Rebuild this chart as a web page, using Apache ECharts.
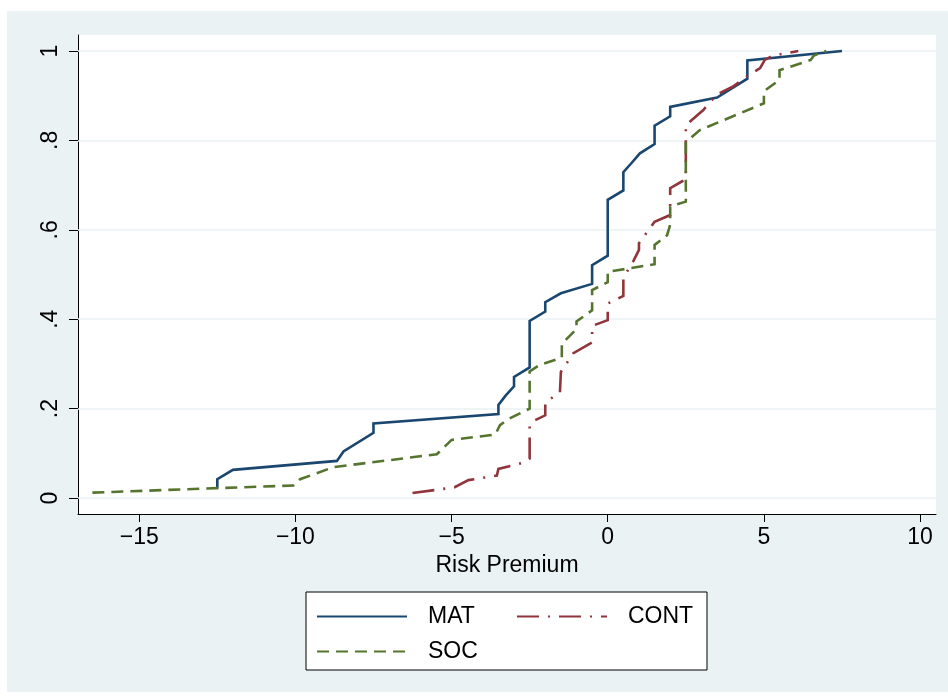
<!DOCTYPE html>
<html>
<head>
<meta charset="utf-8">
<script src="https://cdn.jsdelivr.net/npm/echarts@6/dist/echarts.min.js"></script>
<style>
  html, body { margin: 0; padding: 0; background: #ffffff; }
  #frame { position: absolute; left: 7px; top: 11px; width: 941px; height: 681px; background: #eaf2f3; }
  #chart { position: absolute; left: 0; top: 0; width: 948px; height: 697px; }
</style>
</head>
<body>
<div id="frame"></div>
<div id="chart"></div>
<script>
// Empirical cumulative distributions of the risk premium, one curve per treatment.
// Each pair of arrays holds the curve vertices: premium value and cumulative share.
const matX  = [-12.5, -12.5, -12.0, -8.67, -8.46, -7.5, -7.5, -3.5, -3.5, -3.27, -3.0, -3.0, -2.5, -2.5, -2.0, -2.0, -1.5, -0.5, -0.5, 0.0, 0.0, 0.5, 0.5, 0.77, 1.03, 1.5, 1.5, 2.0, 2.0, 3.5, 4.47, 4.47, 7.5];
const matY  = [0.021, 0.042, 0.063, 0.083, 0.104, 0.146, 0.167, 0.188, 0.208, 0.229, 0.25, 0.271, 0.292, 0.396, 0.417, 0.438, 0.458, 0.479, 0.521, 0.542, 0.667, 0.688, 0.729, 0.75, 0.771, 0.792, 0.833, 0.854, 0.875, 0.896, 0.938, 0.979, 1.0];

const contX = [-6.25, -5.4, -4.9, -4.46, -3.55, -3.5, -2.7, -2.5, -2.5, -2.33, -2.0, -2.0, -1.53, -1.5, -1.1, -0.5, -0.5, 0.0, 0.0, 0.5, 0.5, 0.82, 1.0, 1.0, 1.5, 2.0, 2.0, 2.37, 2.5, 2.5, 3.06, 3.5, 4.0, 4.5, 4.88, 5.03, 5.3, 6.1];
const contY = [0.011, 0.019, 0.024, 0.04, 0.05, 0.065, 0.079, 0.088, 0.163, 0.174, 0.185, 0.214, 0.236, 0.282, 0.324, 0.348, 0.385, 0.398, 0.435, 0.452, 0.493, 0.53, 0.555, 0.57, 0.618, 0.633, 0.693, 0.708, 0.712, 0.834, 0.868, 0.903, 0.92, 0.945, 0.962, 0.98, 0.99, 1.0];

const socX  = [-16.5, -12.5, -10.06, -9.85, -8.78, -5.47, -5.0, -3.6, -3.45, -3.2, -2.5, -2.5, -2.17, -1.47, -1.47, -1.0, -1.0, -0.5, -0.5, 0.0, 0.0, 1.5, 1.5, 1.9, 2.0, 2.0, 2.5, 2.5, 2.95, 5.0, 5.0, 5.5, 5.5, 6.5, 6.6, 7.0];
const socY  = [0.012, 0.022, 0.028, 0.042, 0.069, 0.098, 0.13, 0.142, 0.163, 0.176, 0.2, 0.283, 0.298, 0.314, 0.345, 0.378, 0.395, 0.42, 0.465, 0.483, 0.506, 0.523, 0.566, 0.588, 0.611, 0.652, 0.663, 0.796, 0.823, 0.883, 0.91, 0.935, 0.957, 0.98, 0.99, 1.0];

const seriesNames = ['MAT', 'CONT', 'SOC'];
const xTicks = [-15, -10, -5, 0, 5, 10];
const yTicks = [0, 0.2, 0.4, 0.6, 0.8, 1];
const xTitle = 'Risk Premium';

const FONT = '"Liberation Sans", Arial, sans-serif';

function pairs(xs, ys) {
  return xs.map((x, i) => [x, ys[i]]);
}

function fmtX(v) {
  return v < 0 ? '\u2212' + Math.abs(v) : String(v);
}
function fmtY(v) {
  if (v === 0) return '0';
  if (v === 1) return '1';
  return String(+v.toFixed(1)).replace(/^0\./, '.');
}

const chart = echarts.init(document.getElementById('chart'), null, { renderer: 'canvas' });

const curveStyles = {
  MAT:  { color: '#1a476f', width: 2.6, type: 'solid' },
  CONT: { color: '#90353b', width: 2.6, type: [22, 9, 2, 9] },
  SOC:  { color: '#55752f', width: 2.6, type: [12, 7] }
};
const curveData = {
  MAT: pairs(matX, matY),
  CONT: pairs(contX, contY),
  SOC: pairs(socX, socY)
};

const series = [
  {
    // horizontal grid lines behind the curves
    name: 'grid',
    type: 'line',
    data: [],
    z: 1,
    silent: true,
    markLine: {
      z: 1,
      silent: true,
      symbol: ['none', 'none'],
      label: { show: false },
      animation: false,
      lineStyle: { color: '#eaf2f3', width: 1.6, type: 'solid' },
      emphasis: { disabled: true },
      data: yTicks.map(v => ({ yAxis: v }))
    }
  }
].concat(seriesNames.map(name => ({
  name: name,
  type: 'line',
  data: curveData[name],
  z: 3,
  symbol: 'none',
  showSymbol: false,
  smooth: false,
  lineStyle: {
    color: curveStyles[name].color,
    width: curveStyles[name].width,
    type: curveStyles[name].type,
    join: 'miter'
  },
  itemStyle: { color: curveStyles[name].color }
})));

chart.setOption({
  animation: false,
  backgroundColor: 'transparent',
  textStyle: { fontFamily: FONT, color: '#000' },
  grid: {
    left: 78, right: 12, top: 35, bottom: 183,
    show: true, backgroundColor: '#ffffff', borderWidth: 0,
    containLabel: false
  },
  xAxis: {
    type: 'value',
    min: -16.96, max: 10.51,
    name: xTitle,
    nameLocation: 'middle',
    nameGap: 38,
    nameTextStyle: { fontFamily: FONT, fontSize: 23, color: '#000' },
    axisLine: { show: true, onZero: false, lineStyle: { color: '#000', width: 1 } },
    axisTick: { show: true, customValues: xTicks, length: 8, lineStyle: { color: '#000', width: 1 } },
    axisLabel: { customValues: xTicks, formatter: fmtX, margin: 12, fontFamily: FONT, fontSize: 23, color: '#000' },
    splitLine: { show: false }
  },
  yAxis: {
    type: 'value',
    min: -0.0358, max: 1.0358,
    axisLine: { show: true, onZero: false, lineStyle: { color: '#000', width: 1 } },
    axisTick: { show: true, customValues: yTicks, length: 9, lineStyle: { color: '#000', width: 1 } },
    axisLabel: { customValues: yTicks, formatter: fmtY, rotate: 90, margin: 16, fontFamily: FONT, fontSize: 23, color: '#000' },
    splitLine: { show: false }
  },
  legend: {
    data: seriesNames,
    orient: 'horizontal',
    left: 306, top: 592,
    width: 390,
    padding: [13, 3, 7, 10],
    itemGap: 12,
    itemWidth: 90,
    itemHeight: 23,
    backgroundColor: '#ffffff',
    borderColor: '#000',
    borderWidth: 1,
    borderRadius: 0,
    selectedMode: false,
    // line-only keys: no marker dot on the sample line
    itemStyle: { color: 'transparent', borderWidth: 0, opacity: 0 },
    textStyle: {
      fontFamily: FONT, fontSize: 23, color: '#000',
      width: 76, lineHeight: 23, padding: [0, 0, 0, 16]
    }
  },
  series: series
});
</script>
</body>
</html>
